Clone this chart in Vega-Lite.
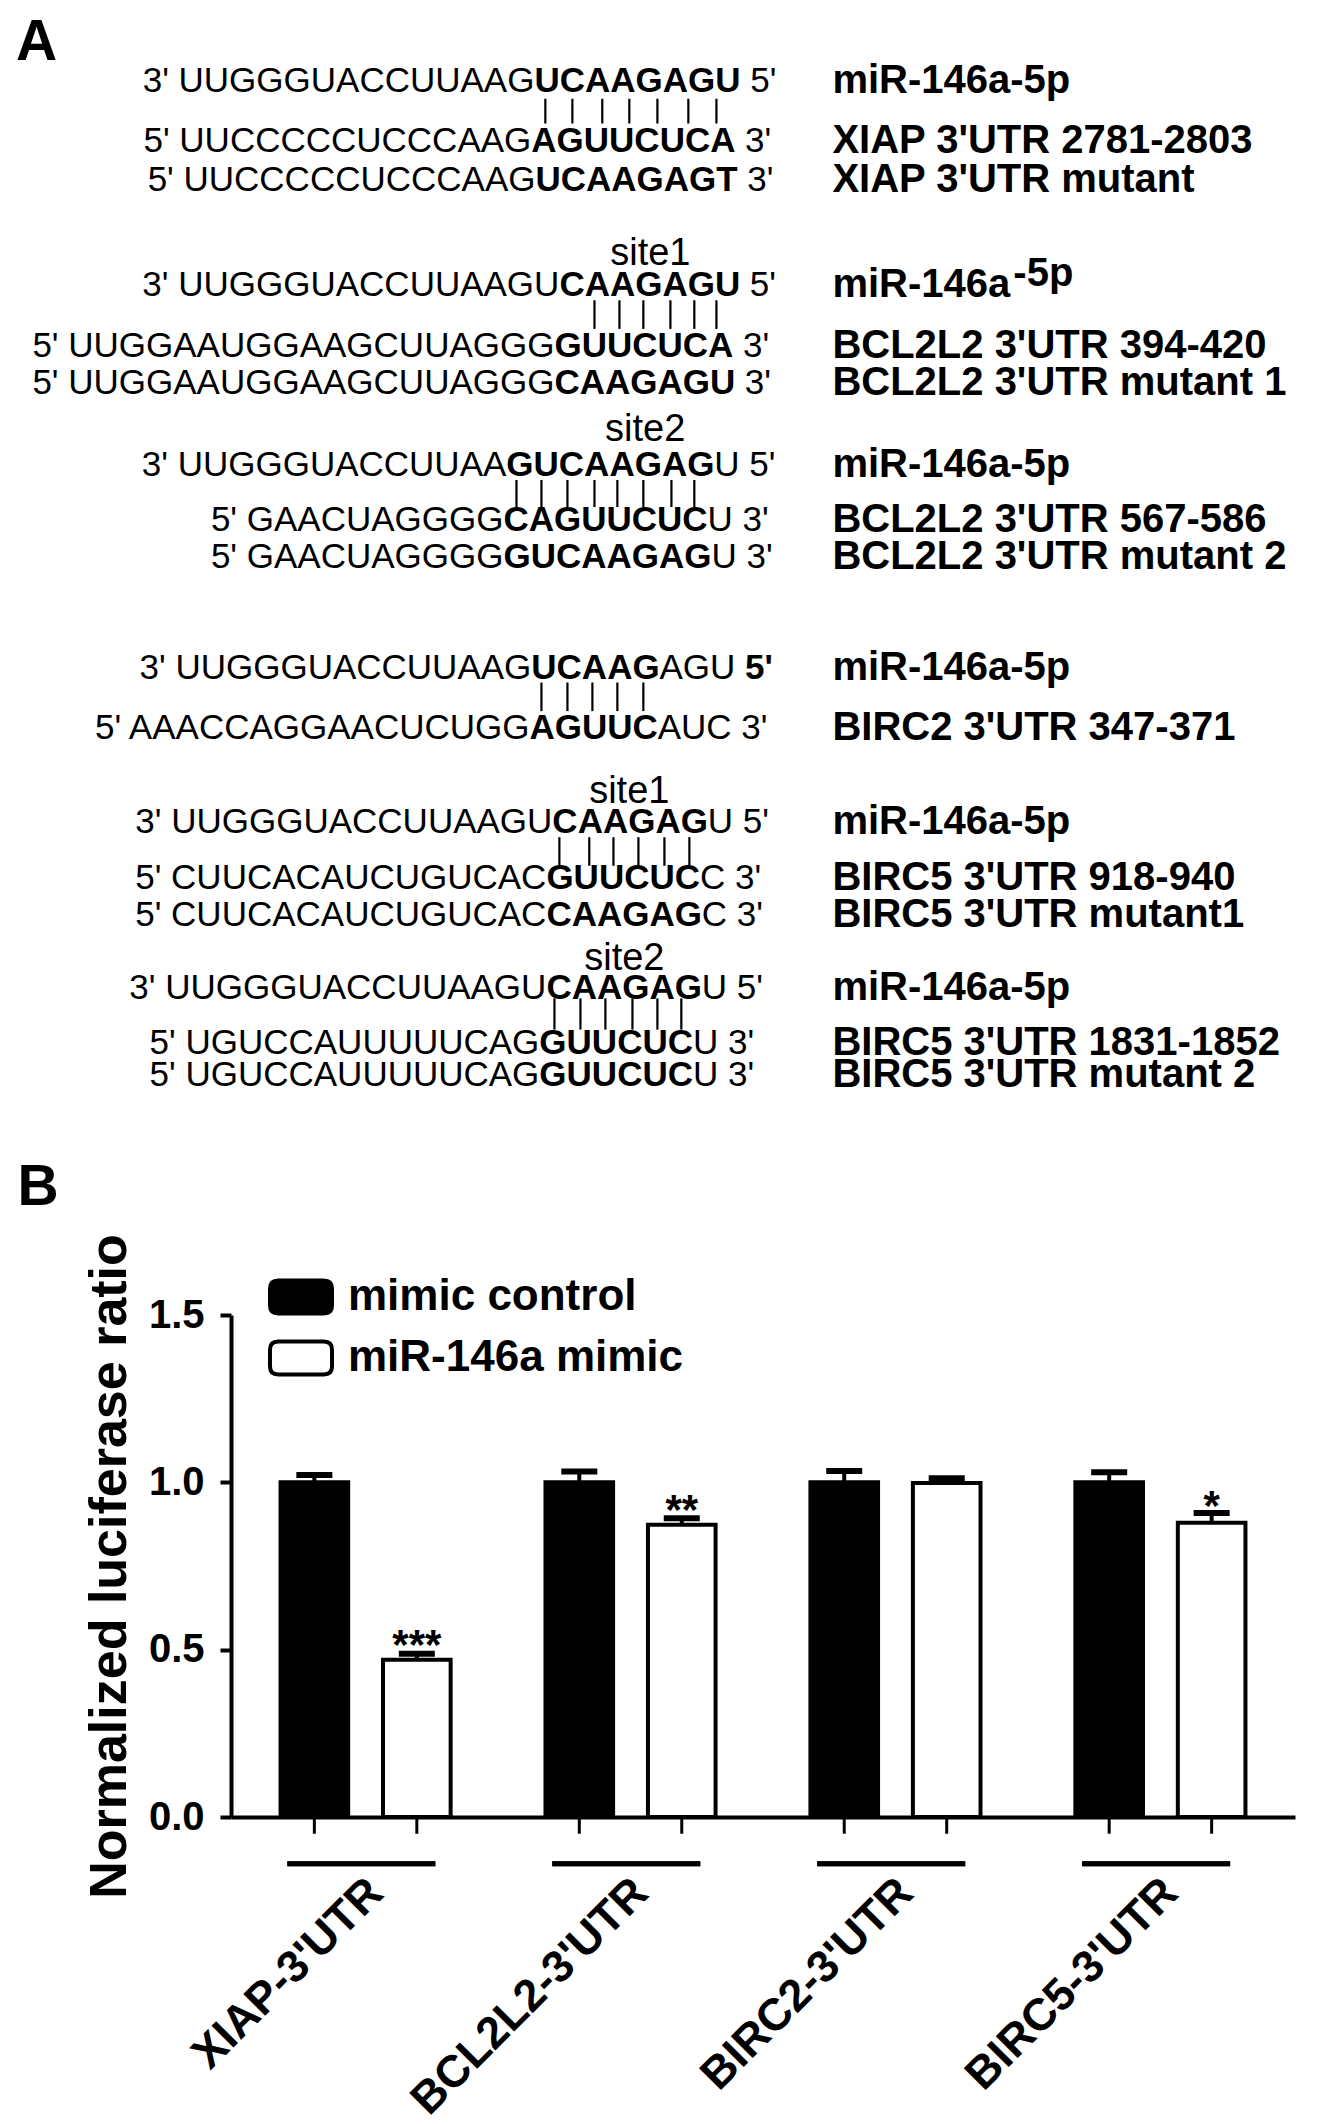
{
  "$schema": "https://vega.github.io/schema/vega-lite/v6.json",
  "background": "white",
  "padding": {"left": 15, "top": 0, "right": 0, "bottom": 0},
  "spacing": 40,
  "resolve": {"scale": {"fill": "independent"}, "legend": {"fill": "independent"}},
  "config": {
    "view": {"stroke": null},
    "font": "Liberation Sans",
    "axis": {"domainColor": "black", "tickColor": "black", "labelColor": "black", "titleColor": "black", "labelFont": "Liberation Sans", "titleFont": "Liberation Sans", "grid": false},
    "legend": {"labelFont": "Liberation Sans", "labelColor": "black"},
    "title": {"font": "Liberation Sans", "color": "black"}
  },
  "vconcat": [
    {
      "width": 1092,
      "height": 1118,
      "data": {"values": [
        {"k": "panel", "p": 0.1, "l": 2.31, "t": "A"},

        {"k": "pre", "p": 20.04, "l": 3.12, "t": "3' UUGGGUACCUUAAG"},
        {"k": "b", "p": 20.04, "l": 3.12, "t": "UCAAGAGU"},
        {"k": "post", "p": 28.34, "l": 3.12, "t": "5'"},
        {"k": "pair", "p": 20.46, "l": 3.8, "l2": 4.75},
        {"k": "pair", "p": 21.5, "l": 3.8, "l2": 4.75},
        {"k": "pair", "p": 22.65, "l": 3.8, "l2": 4.75},
        {"k": "pair", "p": 23.69, "l": 3.8, "l2": 4.75},
        {"k": "pair", "p": 24.77, "l": 3.8, "l2": 4.75},
        {"k": "pair", "p": 25.96, "l": 3.8, "l2": 4.75},
        {"k": "pair", "p": 27.04, "l": 3.8, "l2": 4.75},
        {"k": "pre", "p": 19.92, "l": 5.42, "t": "5' UUCCCCCUCCCAAG"},
        {"k": "b", "p": 19.92, "l": 5.42, "t": "AGUUCUCA"},
        {"k": "post", "p": 28.14, "l": 5.42, "t": "3'"},
        {"k": "pre", "p": 20.08, "l": 6.92, "t": "5' UUCCCCCUCCCAAG"},
        {"k": "b", "p": 20.08, "l": 6.92, "t": "UCAAGAGT"},
        {"k": "post", "p": 28.23, "l": 6.92, "t": "3'"},
        {"k": "lab", "p": 31.5, "l": 3.12, "t": "miR-146a-5p"},
        {"k": "lab", "p": 31.5, "l": 5.42, "t": "XIAP 3'UTR 2781-2803"},
        {"k": "lab", "p": 31.5, "l": 6.92, "t": "XIAP 3'UTR mutant"},

        {"k": "site", "p": 24.5, "l": 9.75, "t": "site1"},
        {"k": "pre", "p": 21.0, "l": 10.96, "t": "3' UUGGGUACCUUAAGU"},
        {"k": "b", "p": 21.0, "l": 10.96, "t": "CAAGAGU"},
        {"k": "post", "p": 28.32, "l": 10.96, "t": "5'"},
        {"k": "pair", "p": 22.35, "l": 11.55, "l2": 12.65},
        {"k": "pair", "p": 23.31, "l": 11.55, "l2": 12.65},
        {"k": "pair", "p": 24.23, "l": 11.55, "l2": 12.65},
        {"k": "pair", "p": 25.27, "l": 11.55, "l2": 12.65},
        {"k": "pair", "p": 26.19, "l": 11.55, "l2": 12.65},
        {"k": "pair", "p": 27.04, "l": 11.55, "l2": 12.65},
        {"k": "pre", "p": 20.81, "l": 13.31, "t": "5' UUGGAAUGGAAGCUUAGGG"},
        {"k": "b", "p": 20.81, "l": 13.31, "t": "GUUCUCA"},
        {"k": "post", "p": 28.06, "l": 13.31, "t": "3'"},
        {"k": "pre", "p": 20.81, "l": 14.73, "t": "5' UUGGAAUGGAAGCUUAGGG"},
        {"k": "b", "p": 20.81, "l": 14.73, "t": "CAAGAGU"},
        {"k": "post", "p": 28.13, "l": 14.73, "t": "3'"},
        {"k": "lab", "p": 31.5, "l": 10.96, "t": "miR-146a"},
        {"k": "lab", "p": 38.46, "l": 10.55, "t": "-5p"},
        {"k": "lab", "p": 31.5, "l": 13.31, "t": "BCL2L2 3'UTR 394-420"},
        {"k": "lab", "p": 31.5, "l": 14.73, "t": "BCL2L2 3'UTR mutant 1"},

        {"k": "site", "p": 24.3, "l": 16.54, "t": "site2"},
        {"k": "pre", "p": 18.96, "l": 17.88, "t": "3' UUGGGUACCUUAA"},
        {"k": "b", "p": 18.96, "l": 17.88, "t": "GUCAAGAG"},
        {"k": "post", "p": 26.96, "l": 17.88, "t": "U 5'"},
        {"k": "pair", "p": 19.35, "l": 18.46, "l2": 19.5},
        {"k": "pair", "p": 20.31, "l": 18.46, "l2": 19.5},
        {"k": "pair", "p": 21.31, "l": 18.46, "l2": 19.5},
        {"k": "pair", "p": 22.35, "l": 18.46, "l2": 19.5},
        {"k": "pair", "p": 23.23, "l": 18.46, "l2": 19.5},
        {"k": "pair", "p": 24.23, "l": 18.46, "l2": 19.5},
        {"k": "pair", "p": 25.31, "l": 18.46, "l2": 19.5},
        {"k": "pair", "p": 26.19, "l": 18.46, "l2": 19.5},
        {"k": "pre", "p": 18.85, "l": 20.0, "t": "5' GAACUAGGGG"},
        {"k": "b", "p": 18.85, "l": 20.0, "t": "CAGUUCUC"},
        {"k": "post", "p": 26.7, "l": 20.0, "t": "U 3'"},
        {"k": "pre", "p": 18.85, "l": 21.42, "t": "5' GAACUAGGGG"},
        {"k": "b", "p": 18.85, "l": 21.42, "t": "GUCAAGAG"},
        {"k": "post", "p": 26.85, "l": 21.42, "t": "U 3'"},
        {"k": "lab", "p": 31.5, "l": 17.88, "t": "miR-146a-5p"},
        {"k": "lab", "p": 31.5, "l": 20.0, "t": "BCL2L2 3'UTR 567-586"},
        {"k": "lab", "p": 31.5, "l": 21.42, "t": "BCL2L2 3'UTR mutant 2"},

        {"k": "pre", "p": 19.92, "l": 25.7, "t": "3' UUGGGUACCUUAAG"},
        {"k": "b", "p": 19.92, "l": 25.7, "t": "UCAAG"},
        {"k": "post", "p": 24.85, "l": 25.7, "t": "AGU"},
        {"k": "bpost", "p": 28.14, "l": 25.7, "t": "5'"},
        {"k": "pair", "p": 20.31, "l": 26.25, "l2": 27.35},
        {"k": "pair", "p": 21.31, "l": 26.25, "l2": 27.35},
        {"k": "pair", "p": 22.27, "l": 26.25, "l2": 27.35},
        {"k": "pair", "p": 23.23, "l": 26.25, "l2": 27.35},
        {"k": "pair", "p": 24.23, "l": 26.25, "l2": 27.35},
        {"k": "pre", "p": 19.85, "l": 28.0, "t": "5' AAACCAGGAACUCUGG"},
        {"k": "b", "p": 19.85, "l": 28.0, "t": "AGUUC"},
        {"k": "post", "p": 24.78, "l": 28.0, "t": "AUC 3'"},
        {"k": "lab", "p": 31.5, "l": 25.7, "t": "miR-146a-5p"},
        {"k": "lab", "p": 31.5, "l": 28.0, "t": "BIRC2 3'UTR 347-371"},

        {"k": "site", "p": 23.69, "l": 30.46, "t": "site1"},
        {"k": "pre", "p": 20.73, "l": 31.6, "t": "3' UUGGGUACCUUAAGU"},
        {"k": "b", "p": 20.73, "l": 31.6, "t": "CAAGAG"},
        {"k": "post", "p": 26.71, "l": 31.6, "t": "U 5'"},
        {"k": "pair", "p": 21.0, "l": 32.2, "l2": 33.3},
        {"k": "pair", "p": 22.15, "l": 32.2, "l2": 33.3},
        {"k": "pair", "p": 23.08, "l": 32.2, "l2": 33.3},
        {"k": "pair", "p": 24.04, "l": 32.2, "l2": 33.3},
        {"k": "pair", "p": 25.04, "l": 32.2, "l2": 33.3},
        {"k": "pair", "p": 26.0, "l": 32.2, "l2": 33.3},
        {"k": "pre", "p": 20.5, "l": 33.77, "t": "5' CUUCACAUCUGUCAC"},
        {"k": "b", "p": 20.5, "l": 33.77, "t": "GUUCUC"},
        {"k": "post", "p": 26.41, "l": 33.77, "t": "C 3'"},
        {"k": "pre", "p": 20.5, "l": 35.19, "t": "5' CUUCACAUCUGUCAC"},
        {"k": "b", "p": 20.5, "l": 35.19, "t": "CAAGAG"},
        {"k": "post", "p": 26.48, "l": 35.19, "t": "C 3'"},
        {"k": "lab", "p": 31.5, "l": 31.6, "t": "miR-146a-5p"},
        {"k": "lab", "p": 31.5, "l": 33.77, "t": "BIRC5 3'UTR 918-940"},
        {"k": "lab", "p": 31.5, "l": 35.19, "t": "BIRC5 3'UTR mutant1"},

        {"k": "site", "p": 23.5, "l": 36.9, "t": "site2"},
        {"k": "pre", "p": 20.5, "l": 38.0, "t": "3' UUGGGUACCUUAAGU"},
        {"k": "b", "p": 20.5, "l": 38.0, "t": "CAAGAG"},
        {"k": "post", "p": 26.48, "l": 38.0, "t": "U 5'"},
        {"k": "pair", "p": 20.81, "l": 38.4, "l2": 39.6},
        {"k": "pair", "p": 21.81, "l": 38.4, "l2": 39.6},
        {"k": "pair", "p": 22.77, "l": 38.4, "l2": 39.6},
        {"k": "pair", "p": 23.81, "l": 38.4, "l2": 39.6},
        {"k": "pair", "p": 24.77, "l": 38.4, "l2": 39.6},
        {"k": "pair", "p": 25.69, "l": 38.4, "l2": 39.6},
        {"k": "pre", "p": 20.23, "l": 40.1, "t": "5' UGUCCAUUUUUCAG"},
        {"k": "b", "p": 20.23, "l": 40.1, "t": "GUUCUC"},
        {"k": "post", "p": 26.14, "l": 40.1, "t": "U 3'"},
        {"k": "pre", "p": 20.23, "l": 41.35, "t": "5' UGUCCAUUUUUCAG"},
        {"k": "b", "p": 20.23, "l": 41.35, "t": "GUUCUC"},
        {"k": "post", "p": 26.14, "l": 41.35, "t": "U 3'"},
        {"k": "lab", "p": 31.5, "l": 38.0, "t": "miR-146a-5p"},
        {"k": "lab", "p": 31.5, "l": 40.1, "t": "BIRC5 3'UTR 1831-1852"},
        {"k": "lab", "p": 31.5, "l": 41.35, "t": "BIRC5 3'UTR mutant 2"}
      ]},
      "encoding": {
        "x": {"field": "p", "type": "quantitative", "scale": {"domain": [8.37, 50.37], "nice": false, "zero": false}, "axis": null},
        "y": {"field": "l", "type": "quantitative", "scale": {"domain": [0, 43], "nice": false, "zero": false, "reverse": true}, "axis": null}
      },
      "layer": [
        {"transform": [{"filter": "datum.k === 'pair'"}],
         "mark": {"type": "rule", "strokeWidth": 2.2, "color": "black"},
         "encoding": {"y2": {"field": "l2"}}},
        {"transform": [{"filter": "datum.k === 'pre'"}],
         "mark": {"type": "text", "align": "right", "baseline": "middle", "font": "Liberation Sans", "fontSize": 35, "color": "black"},
         "encoding": {"text": {"field": "t"}}},
        {"transform": [{"filter": "datum.k === 'b'"}],
         "mark": {"type": "text", "align": "left", "baseline": "middle", "font": "Liberation Sans", "fontSize": 35, "fontWeight": "bold", "color": "black"},
         "encoding": {"text": {"field": "t"}}},
        {"transform": [{"filter": "datum.k === 'post'"}],
         "mark": {"type": "text", "align": "left", "baseline": "middle", "font": "Liberation Sans", "fontSize": 35, "color": "black"},
         "encoding": {"text": {"field": "t"}}},
        {"transform": [{"filter": "datum.k === 'bpost'"}],
         "mark": {"type": "text", "align": "left", "baseline": "middle", "font": "Liberation Sans", "fontSize": 35, "fontWeight": "bold", "color": "black"},
         "encoding": {"text": {"field": "t"}}},
        {"transform": [{"filter": "datum.k === 'lab'"}],
         "mark": {"type": "text", "align": "left", "baseline": "middle", "font": "Liberation Sans", "fontSize": 40, "fontWeight": "bold", "color": "black"},
         "encoding": {"text": {"field": "t"}}},
        {"transform": [{"filter": "datum.k === 'site'"}],
         "mark": {"type": "text", "align": "center", "baseline": "middle", "font": "Liberation Sans", "fontSize": 38, "color": "black"},
         "encoding": {"text": {"field": "t"}}},
        {"transform": [{"filter": "datum.k === 'panel'"}],
         "mark": {"type": "text", "align": "left", "baseline": "alphabetic", "font": "Liberation Sans", "fontSize": 57, "fontWeight": "bold", "color": "black"},
         "encoding": {"text": {"field": "t"}}}
      ]
    },
    {
      "width": 1064,
      "height": 502,
      "title": {"text": "B", "anchor": "start", "frame": "bounds", "fontSize": 57, "fontWeight": "bold", "dx": -66, "offset": 17},
      "data": {"values": [
        {"gene": "XIAP-3'UTR", "treatment": "mimic control", "mean": 1.0, "upper": 1.022},
        {"gene": "XIAP-3'UTR", "treatment": "miR-146a mimic", "mean": 0.47, "upper": 0.488, "star": "***", "star_y": 0.51},
        {"gene": "BCL2L2-3'UTR", "treatment": "mimic control", "mean": 1.0, "upper": 1.032},
        {"gene": "BCL2L2-3'UTR", "treatment": "miR-146a mimic", "mean": 0.873, "upper": 0.893, "star": "**", "star_y": 0.913},
        {"gene": "BIRC2-3'UTR", "treatment": "mimic control", "mean": 1.0, "upper": 1.034},
        {"gene": "BIRC2-3'UTR", "treatment": "miR-146a mimic", "mean": 0.998, "upper": 1.012},
        {"gene": "BIRC5-3'UTR", "treatment": "mimic control", "mean": 1.0, "upper": 1.03},
        {"gene": "BIRC5-3'UTR", "treatment": "miR-146a mimic", "mean": 0.879, "upper": 0.908, "star": "*", "star_y": 0.926}
      ]},
      "encoding": {
        "x": {"field": "gene", "type": "nominal",
              "sort": ["XIAP-3'UTR", "BCL2L2-3'UTR", "BIRC2-3'UTR", "BIRC5-3'UTR"],
              "scale": {"paddingInner": 0.358, "paddingOuter": 0.187},
              "axis": {"title": null, "ticks": false, "tickSize": 0, "domainWidth": 4, "labelAngle": -45, "labelAlign": "right", "labelBaseline": "middle", "labelFontSize": 45, "labelFontWeight": "bold", "labelPadding": 68, "labelOffset": 10, "labelLimit": 0, "labelOverlap": false, "labelFlush": false}}
      },
      "layer": [
        {"mark": {"type": "bar", "stroke": "black", "strokeWidth": 4},
         "encoding": {
           "xOffset": {"field": "treatment", "type": "nominal", "sort": ["mimic control", "miR-146a mimic"], "scale": {"paddingInner": 0.34}},
           "y": {"field": "mean", "type": "quantitative", "scale": {"domain": [0, 1.5], "nice": false, "zero": false},
                 "axis": {"title": "Normalized luciferase ratio", "values": [0, 0.5, 1, 1.5], "format": ".1f", "domainWidth": 4, "tickWidth": 4, "tickSize": 11, "labelFontSize": 40, "labelFontWeight": "bold", "labelPadding": 16, "titleFontSize": 52, "titleFontWeight": "bold", "titlePadding": 12}},
           "fill": {"field": "treatment", "type": "nominal", "sort": ["mimic control", "miR-146a mimic"],
                    "scale": {"domain": ["mimic control", "miR-146a mimic"], "range": ["black", "white"]},
                    "legend": {"title": null, "orient": "none", "legendX": 48, "legendY": -40,
                               "symbolType": "M -1.38,-1 L 1.38,-1 Q 1.88,-1 1.88,-0.5 L 1.88,0.5 Q 1.88,1 1.38,1 L -1.38,1 Q -1.88,1 -1.88,0.5 L -1.88,-0.5 Q -1.88,-1 -1.38,-1 Z",
                               "symbolSize": 1089, "symbolStrokeColor": "black", "symbolStrokeWidth": 4, "symbolOpacity": 1,
                               "labelFontSize": 44, "labelFontWeight": "bold", "labelOffset": 25, "rowPadding": 11, "labelLimit": 0}}
         }},
        {"mark": {"type": "rule", "strokeWidth": 4, "color": "black"},
         "encoding": {
           "xOffset": {"field": "treatment", "type": "nominal", "sort": ["mimic control", "miR-146a mimic"]},
           "y": {"field": "mean", "type": "quantitative"},
           "y2": {"field": "upper"}
         }},
        {"mark": {"type": "tick", "size": 36, "thickness": 6, "color": "black", "opacity": 1},
         "encoding": {
           "xOffset": {"field": "treatment", "type": "nominal", "sort": ["mimic control", "miR-146a mimic"]},
           "y": {"field": "upper", "type": "quantitative"}
         }},
        {"transform": [{"filter": "datum.star"}],
         "mark": {"type": "text", "fontSize": 42, "fontWeight": "bold", "baseline": "middle", "color": "black"},
         "encoding": {
           "xOffset": {"field": "treatment", "type": "nominal", "sort": ["mimic control", "miR-146a mimic"]},
           "y": {"field": "star_y", "type": "quantitative"},
           "text": {"field": "star"}
         }},
        {"mark": {"type": "rule", "strokeWidth": 3, "color": "black"},
         "encoding": {
           "xOffset": {"field": "treatment", "type": "nominal", "sort": ["mimic control", "miR-146a mimic"]},
           "y": {"datum": 0},
           "y2": {"datum": -0.05}
         }},
        {"mark": {"type": "rule", "strokeWidth": 5, "color": "black"},
         "encoding": {
           "x": {"field": "gene", "type": "nominal", "sort": ["XIAP-3'UTR", "BCL2L2-3'UTR", "BIRC2-3'UTR", "BIRC5-3'UTR"], "bandPosition": 0.04},
           "x2": {"field": "gene", "bandPosition": 0.91},
           "y": {"datum": -0.14}
         }}
      ]
    }
  ]
}
